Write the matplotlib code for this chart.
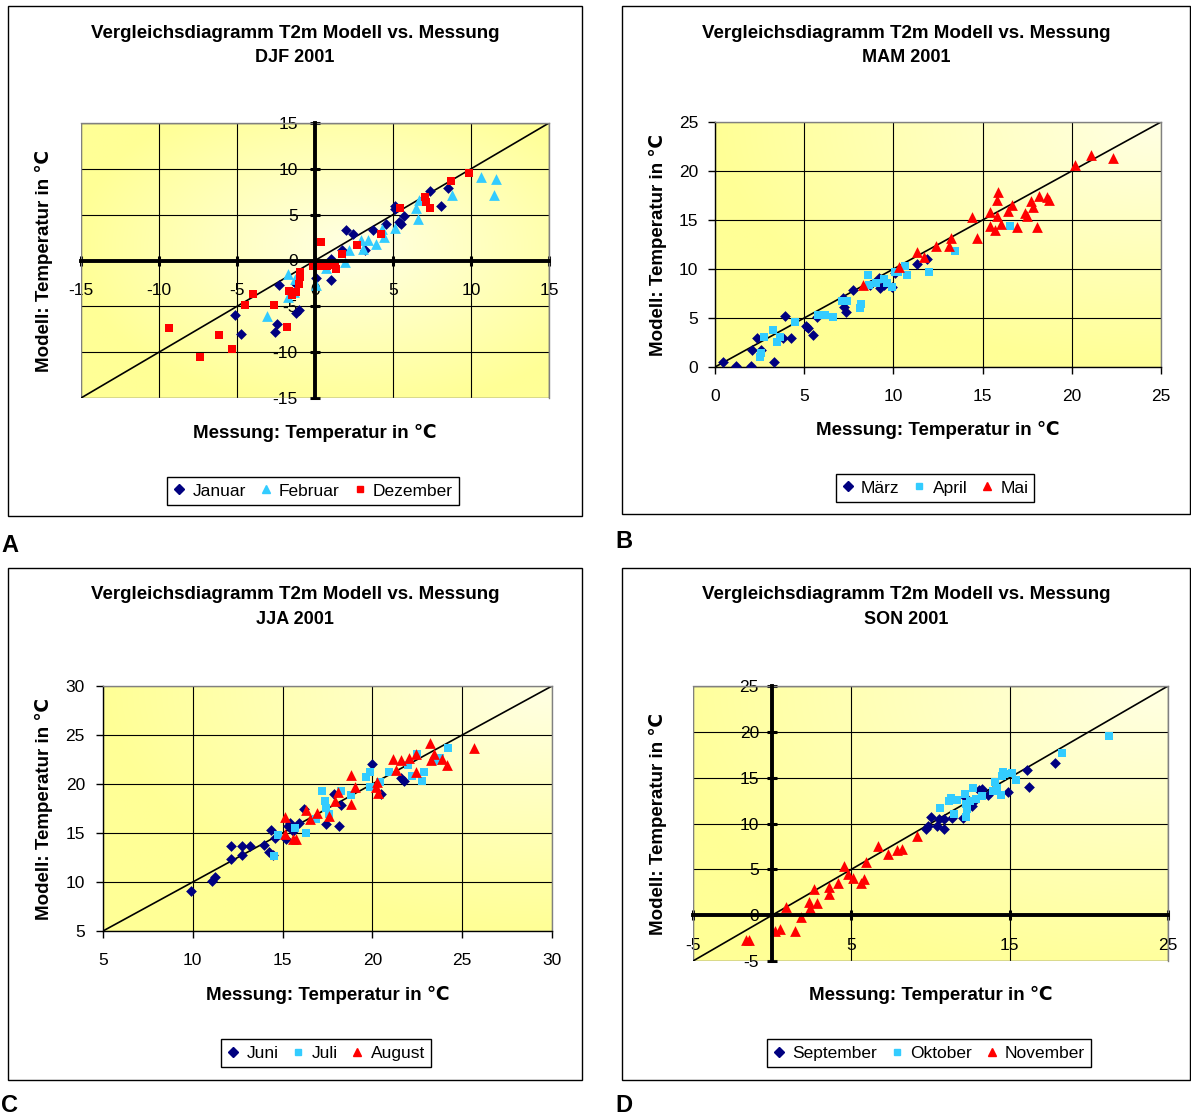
import numpy as np
import matplotlib.pyplot as plt
from matplotlib.lines import Line2D
from matplotlib.patches import Rectangle

plt.rcParams['font.family'] = ['Liberation Sans', 'DejaVu Sans']
plt.rcParams['axes.unicode_minus'] = False

W, H = 1191, 1119

# --- DJF 2001 ---
jan_x = [5.1, 7.4, 8.5, 8.1, 5.4, 5.7, 5.5, 4.55, 2.0, 2.45, 3.7, 3.2, 1.7, 1.0, 1.0, 0.05,
         -2.3, -1.2, -5.1, -4.75, -2.45, -2.55, -1.2, -1.0, 5.1]
jan_y = [5.9, 7.6, 7.9, 6.0, 4.2, 4.9, 4.0, 4.0, 3.3, 2.9, 3.3, 1.1, 1.1, 0.2, -2.1, -1.9,
         -2.65, -2.55, -5.9, -8.0, -6.9, -7.75, -5.7, -5.45, 5.6]
feb_x = [10.65, 11.6, 11.5, 8.8, 6.65, 6.5, 6.6, 5.1, 4.45, 4.3, 3.9, 3.4, 2.95, 3.05, 2.2,
         1.9, 0.7, 0.05, -1.75, -1.3, -1.7, -3.1, -1.35]
feb_y = [9.1, 8.85, 7.2, 7.2, 6.65, 5.7, 4.5, 3.6, 2.55, 3.4, 1.8, 2.2, 2.2, 1.3, 1.1,
         -0.2, -0.85, -2.7, -1.5, -2.0, -4.0, -6.1, -3.45]
dez_x = [9.9, 8.7, 7.05, 7.1, 7.4, 5.45, 4.25, 2.7, 1.75, 0.4, -0.1, 0.4, 0.8, 1.25, 1.35,
         -0.95, -0.95, -1.05, -1.65, -1.25, -1.45, -3.95, -4.5, -2.6, -1.8, -9.35, -6.15,
         -5.3, -7.4]
dez_y = [9.5, 8.7, 6.9, 6.35, 5.75, 5.75, 2.9, 1.65, 0.7, 2.0, -0.65, -0.65, -0.65, -0.5,
         -0.9, -1.2, -1.8, -2.55, -3.3, -3.45, -3.75, -3.7, -4.85, -4.85, -7.3, -7.35, -8.1,
         -9.7, -10.55]

# --- MAM 2001 ---
mar_x = [0.47, 1.18, 2.0, 3.3, 2.1, 2.6, 2.34, 3.8, 4.24, 3.9, 5.1, 5.23, 5.5, 5.7, 7.2,
         7.23, 7.33, 7.72, 8.7, 9.2, 9.25, 9.5, 9.94, 10.1, 11.3, 11.87]
mar_y = [0.54, 0.1, 0.1, 0.48, 1.74, 1.74, 2.93, 2.93, 2.93, 5.2, 4.2, 3.95, 3.27, 5.1, 7.0,
         6.16, 5.65, 7.87, 8.4, 9.06, 8.1, 8.4, 8.2, 9.57, 10.5, 11.0]
apr_x = [2.5, 2.56, 2.77, 3.23, 3.46, 3.64, 4.49, 5.8, 6.17, 6.64, 7.1, 7.42, 8.1, 8.17,
         8.56, 8.65, 9.03, 9.5, 9.63, 9.9, 10.1, 10.28, 10.65, 10.75, 12.0, 13.46, 16.54]
apr_y = [1.0, 1.4, 3.03, 3.78, 2.6, 3.1, 4.63, 5.3, 5.3, 5.14, 6.74, 6.74, 6.0, 6.4, 9.4,
         8.38, 8.55, 9.0, 8.55, 8.2, 9.74, 9.67, 10.3, 9.4, 9.74, 11.85, 14.34]
mai_x = [8.3, 10.3, 11.3, 11.7, 12.37, 13.14, 13.23, 14.67, 14.4, 15.42, 15.85, 15.8, 15.8,
         15.42, 15.7, 16.04, 16.4, 16.64, 16.95, 17.35, 17.48, 17.72, 17.85, 18.04, 18.17,
         18.6, 18.73, 20.2, 21.1, 22.3]
mai_y = [8.38, 10.2, 11.7, 11.2, 12.3, 12.3, 13.15, 13.15, 15.3, 15.77, 17.9, 17.06, 15.43,
         14.4, 13.93, 14.6, 15.94, 16.5, 14.24, 15.7, 15.43, 16.9, 16.3, 14.24, 17.4, 17.34,
         17.06, 20.57, 21.66, 21.32]

# --- JJA 2001 ---
jun_x = [9.9, 11.06, 11.24, 12.1, 12.74, 13.2, 12.1, 12.74, 13.98, 14.35, 14.6, 14.26,
         14.44, 15.18, 15.28, 15.43, 15.56, 15.9, 16.2, 17.4, 18.15, 17.87, 18.24, 20.0,
         20.46, 21.6, 21.76]
jun_y = [9.13, 10.15, 10.53, 13.67, 13.67, 13.67, 12.3, 12.8, 13.78, 15.3, 14.46, 13.1,
         12.75, 14.43, 15.73, 16.07, 15.2, 16.07, 17.43, 15.9, 15.73, 18.97, 17.85, 22.05,
         18.97, 20.6, 20.35]
jul_x = [14.54, 14.72, 15.7, 16.3, 16.85, 17.22, 17.37, 17.44, 17.6, 18.24, 18.8, 19.63,
         19.87, 19.87, 20.4, 20.9, 22.0, 22.18, 22.5, 22.76, 22.9, 23.47, 23.78, 24.2]
jul_y = [12.65, 14.8, 15.5, 14.97, 16.4, 19.25, 18.3, 17.6, 16.9, 19.3, 18.87, 20.7, 21.2,
         19.66, 20.17, 21.26, 21.95, 20.85, 23.08, 20.34, 21.2, 22.3, 22.67, 23.7]
aug_x = [15.15, 15.15, 15.56, 15.74, 16.3, 16.5, 16.94, 17.6, 17.92, 18.06, 18.8, 18.83,
         19.04, 20.2, 20.28, 20.3, 21.17, 21.3, 21.57, 22.04, 22.44, 22.44, 23.2, 23.24,
         23.43, 23.9, 24.17, 25.65]
aug_y = [16.65, 14.87, 14.43, 14.43, 17.33, 16.4, 16.99, 16.75, 18.3, 19.15, 17.95, 20.92,
         19.66, 19.66, 20.24, 19.08, 22.56, 21.47, 22.4, 22.67, 23.08, 21.26, 24.2, 22.46,
         23.08, 22.56, 21.95, 23.66]

# --- SON 2001 ---
sep_x = [9.69, 9.85, 10.04, 10.42, 10.52, 10.83, 10.83, 11.35, 12.04, 12.19, 12.7, 12.6,
         13.06, 13.23, 13.65, 14.9, 16.1, 16.2, 17.88]
sep_y = [9.41, 9.7, 10.73, 9.7, 10.51, 9.41, 10.44, 10.55, 10.55, 12.9, 12.38, 11.9, 13.66,
         13.8, 13.08, 13.44, 15.82, 14.03, 16.56]
okt_x = [10.58, 11.15, 11.3, 11.5, 11.67, 12.2, 12.23, 12.3, 12.23, 12.5, 12.7, 12.9, 13.23,
         13.96, 14.06, 14.17, 14.48, 14.54, 14.58, 14.63, 15.17, 15.38, 18.33, 21.3]
okt_y = [11.65, 12.45, 12.75, 11.0, 12.56, 13.19, 12.1, 11.54, 10.7, 12.45, 13.9, 12.64,
         13.0, 13.55, 14.54, 13.92, 13.08, 15.2, 15.64, 15.38, 15.5, 14.76, 17.7, 19.52]
nov_x = [-1.67, -1.46, 0.2, 0.52, 1.42, 1.83, 0.9, 2.3, 2.4, 2.8, 2.65, 3.6, 3.6, 4.17,
         4.52, 4.8, 5.1, 5.6, 5.8, 5.94, 6.67, 7.3, 7.88, 8.19, 9.17]
nov_y = [-2.67, -2.67, -1.72, -1.47, -1.72, -0.18, 0.92, 1.47, 0.73, 1.35, 2.82, 2.3, 3.04,
         3.48, 5.38, 4.5, 4.03, 3.48, 3.96, 5.79, 7.5, 6.7, 7.14, 7.25, 8.6]

NAVY = '#000080'
CYAN = '#33CCFF'
RED = '#FF0000'
YELLOW = np.array([255, 255, 150]) / 255
LIGHT = np.array([255, 255, 228]) / 255

TITLE = 'Vergleichsdiagramm T2m Modell vs. Messung'
XLAB = 'Messung: Temperatur in \u2103'
YLAB = 'Modell: Temperatur in \u2103'

fig = plt.figure(figsize=(W / 100, H / 100), dpi=100)


def fx(x):
    return x / W


def fy(y):
    return 1 - y / H


def panel(frame, axpx, sub, lim, xticks, yticks, cross, series, ylab_x, xlab_y,
          leg_c, letter, letter_xy, light_at, reach, xpad, ypad):
    x0, y0, x1, y1 = frame
    fig.patches.append(Rectangle((fx(x0), fy(y1)), (x1 - x0) / W, (y1 - y0) / H,
                                 transform=fig.transFigure, fill=False,
                                 edgecolor='black', lw=1))
    cx = (x0 + x1) / 2
    fig.text(fx(cx), fy(y0 + 27), TITLE, ha='center', va='center',
             fontsize=13.5, fontweight='bold')
    fig.text(fx(cx), fy(y0 + 52), sub, ha='center', va='center',
             fontsize=13, fontweight='bold')

    a0, b0, a1, b1 = axpx
    ax = fig.add_axes([fx(a0), fy(b1), (a1 - a0) / W, (b1 - b0) / H])

    # yellow gradient fill of the plot area
    gx, gy = np.meshgrid(np.linspace(0, 1, 200), np.linspace(0, 1, 200))
    d = np.sqrt((gx - light_at[0]) ** 2 + (gy - light_at[1]) ** 2)
    t = np.clip(d / reach, 0, 1)[..., None]
    img = LIGHT * (1 - t) + YELLOW * t
    ax.imshow(img, extent=[0, 1, 0, 1], transform=ax.transAxes, origin='lower',
              aspect='auto', zorder=0)

    ax.set_xlim(lim)
    ax.set_ylim(lim)
    ax.set_xticks(xticks)
    ax.set_yticks(yticks)
    ax.grid(True, color='black', lw=0.8)
    ax.set_axisbelow(True)
    ax.plot(lim, lim, color='black', lw=1.2, zorder=2)

    for xs, ys, m, c, s, lab in series:
        ax.scatter(xs, ys, marker=m, color=c, s=s, lw=0, zorder=3, label=lab)

    for sp in ax.spines.values():
        sp.set_color('#808080')
        sp.set_linewidth(1)
    if cross:
        ax.spines['left'].set_position(('data', 0))
        ax.spines['bottom'].set_position(('data', 0))
        ax.spines['left'].set_color('black')
        ax.spines['bottom'].set_color('black')
        ax.spines['left'].set_linewidth(2.8)
        ax.spines['bottom'].set_linewidth(2.8)
        ax.spines['left'].set_zorder(4)
        ax.spines['bottom'].set_zorder(4)
        ax.add_patch(Rectangle((0, 0), 1, 1, transform=ax.transAxes, fill=False,
                               edgecolor='#808080', lw=1, zorder=1))
        ax.tick_params(direction='inout', length=7, width=2.2)
    else:
        ax.spines['left'].set_color('black')
        ax.spines['bottom'].set_color('black')
        ax.tick_params(direction='out', length=5, width=1)
    ax.tick_params(axis='x', labelsize=12.5, pad=xpad)
    ax.tick_params(axis='y', labelsize=12.5, pad=ypad)

    fig.text(fx(ylab_x), fy((b0 + b1) / 2), YLAB, rotation=90, ha='center',
             va='center', fontsize=13.5, fontweight='bold')
    fig.text(fx((a0 + a1) / 2), fy(xlab_y), XLAB, ha='center', va='center',
             fontsize=13.5, fontweight='bold')

    handles = [Line2D([], [], ls='none', marker=m, color=c,
                      markersize=5 if m != '^' else 6)
               for _, _, m, c, _, _ in series]
    labels = [s[5] for s in series]
    leg = fig.legend(handles, labels, loc='center',
                     bbox_to_anchor=(fx(leg_c[0]), fy(leg_c[1])), ncol=3,
                     fancybox=False, edgecolor='black', framealpha=1,
                     fontsize=12.5, handlelength=0.7, handletextpad=0.4,
                     columnspacing=0.8, borderpad=0.35)
    leg.get_frame().set_linewidth(1)

    fig.text(fx(letter_xy[0]), fy(letter_xy[1]), letter, ha='left', va='center',
             fontsize=17, fontweight='bold')
    return ax


panel((8, 6, 582, 516), (81, 123, 549, 398), 'DJF 2001', (-15, 15),
      [-15, -10, -5, 0, 5, 10, 15], [-15, -10, -5, 0, 5, 10, 15], True,
      [(jan_x, jan_y, 'D', NAVY, 30, 'Januar'),
       (feb_x, feb_y, '^', CYAN, 60, 'Februar'),
       (dez_x, dez_y, 's', RED, 32, 'Dezember')],
      44, 433, (313, 491), 'A', (1, 545), (0.58, 0.55), 0.6, 13, 9)

panel((622, 6, 1190, 514), (715, 122, 1161, 367), 'MAM 2001', (0, 25),
      [0, 5, 10, 15, 20, 25], [0, 5, 10, 15, 20, 25], False,
      [(mar_x, mar_y, 'D', NAVY, 30, 'M\u00e4rz'),
       (apr_x, apr_y, 's', CYAN, 32, 'April'),
       (mai_x, mai_y, '^', RED, 60, 'Mai')],
      658, 430, (935, 488), 'B', (615, 541), (1.0, 1.0), 1.0, 11, 7)

panel((8, 568, 582, 1080), (103, 686, 552, 931), 'JJA 2001', (5, 30),
      [5, 10, 15, 20, 25, 30], [5, 10, 15, 20, 25, 30], False,
      [(jun_x, jun_y, 'D', NAVY, 30, 'Juni'),
       (jul_x, jul_y, 's', CYAN, 32, 'Juli'),
       (aug_x, aug_y, '^', RED, 60, 'August')],
      44, 995, (326, 1053), 'C', (1, 1105), (1.0, 1.0), 1.0, 11, 8)

panel((622, 568, 1190, 1080), (693, 686, 1168, 961), 'SON 2001', (-5, 25),
      [-5, 5, 15, 25], [-5, 0, 5, 10, 15, 20, 25], True,
      [(sep_x, sep_y, 'D', NAVY, 30, 'September'),
       (okt_x, okt_y, 's', CYAN, 32, 'Oktober'),
       (nov_x, nov_y, '^', RED, 60, 'November')],
      658, 995, (929, 1053), 'D', (615, 1105), (1.0, 1.0), 1.1, 13, 6)

fig.savefig('out.png', dpi=100)
